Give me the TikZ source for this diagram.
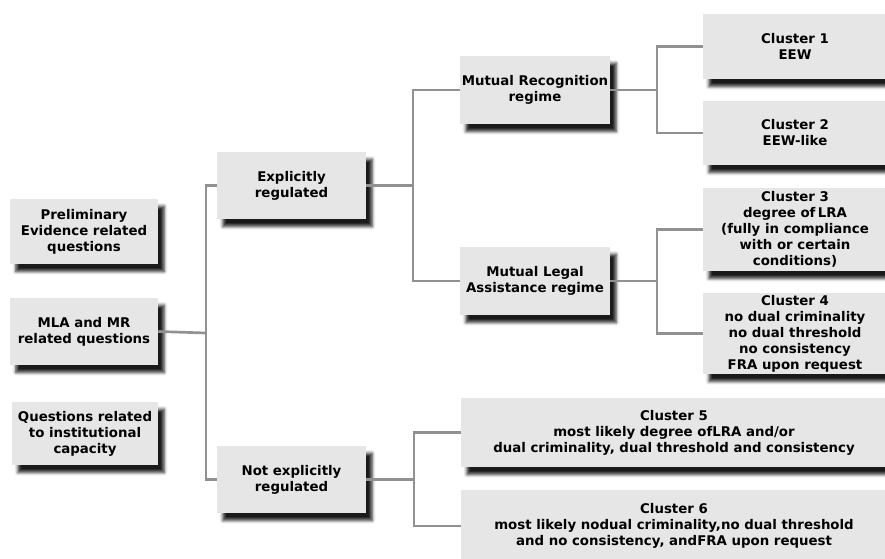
\documentclass[tikz,border=0pt]{standalone}
\usepackage{fontspec}
\setmainfont{DejaVu Sans}
\usepackage{tikz}
\usetikzlibrary{shadows.blur}

\definecolor{boxgray}{RGB}{230,230,230}
\definecolor{linkgray}{RGB}{145,145,145}

\tikzset{
  qbox/.style={fill=boxgray, inner sep=0pt, align=center,
    font=\bfseries\fontsize{10}{12}\selectfont,
    blur shadow={shadow xshift=4.5pt, shadow yshift=-5.5pt, shadow blur radius=2.5pt, shadow opacity=90}},
  link/.style={draw=linkgray, line width=2pt}
}

\begin{document}
\begin{tikzpicture}[x=0.75pt,y=0.75pt,yscale=-1,xscale=1]
    \useasboundingbox (0,0) rectangle (885,559);

    % Left column
    \node (prelim) at (84,231.5) [qbox, minimum width=111pt, minimum height=48.75pt] {Preliminary\\Evidence related\\questions};
    \node (mla) at (84,331.5) [qbox, minimum width=111pt, minimum height=50.25pt] {MLA and MR\\related questions};
    \node (quest) at (85,433.5) [qbox, minimum width=109.5pt, minimum height=47.25pt] {Questions related\\to institutional\\capacity};

    % Second column
    \node (expl) at (291.5,185.5) [qbox, minimum width=111.75pt, minimum height=50.25pt] {Explicitly\\regulated};
    \node (notexpl) at (291.5,479.5) [qbox, minimum width=111.75pt, minimum height=50.25pt] {Not explicitly\\regulated};

    % Regimes
    \node (mr) at (535,90) [qbox, minimum width=112.5pt, minimum height=51pt] {Mutual Recognition\\regime};
    \node (mlar) at (535,281) [qbox, minimum width=112.5pt, minimum height=51pt] {Mutual Legal\\Assistance regime};

    % Clusters
    \node (c1) at (795,46.5) [qbox, minimum width=138pt, minimum height=48.75pt] {Cluster 1\\EEW};
    \node (c2) at (795,133) [qbox, minimum width=138pt, minimum height=48pt] {Cluster 2\\EEW-like};
    \node (c3) at (795,229.5) [qbox, minimum width=138pt, minimum height=62.25pt] {Cluster 3\\degree of\,LRA\\(fully in compliance\\with or certain\\conditions)};
    \node (c4) at (795,333.5) [qbox, minimum width=138pt, minimum height=60.75pt] {Cluster 4\\no dual criminality\\no dual threshold\\no consistency\\FRA upon request};
    \node (c5) at (674,432.5) [qbox, minimum width=319.5pt, minimum height=51.75pt] {Cluster 5\\most likely degree ofLRA and/or\\dual criminality, dual threshold and consistency};
    \node (c6) at (674,526) [qbox, minimum width=319.5pt, minimum height=54pt] {Cluster 6\\most likely nodual criminality,no dual threshold\\and no consistency, andFRA upon request};

    % Trunk points
    \coordinate (t1) at (206,333);
    \coordinate (t2) at (413,185.5);
    \coordinate (t3) at (414,479.5);
    \coordinate (t4) at (657,90);
    \coordinate (t5) at (657,281);

    % Connectors
    \draw [link] (mla.east) -- (t1);
    \draw [link] (expl.west) -| (t1) |- (notexpl.west);
    \draw [link] (expl.east) -- (t2);
    \draw [link] (mr.west) -| (t2) |- (mlar.west);
    \draw [link] (notexpl.east) -- (t3);
    \draw [link] (c5.west) -| (t3) |- (c6.west);
    \draw [link] (mr.east) -- (t4);
    \draw [link] (c1.west) -| (t4) |- (c2.west);
    \draw [link] (mlar.east) -- (t5);
    \draw [link] (c3.west) -| (t5) |- (c4.west);

\end{tikzpicture}
\end{document}
